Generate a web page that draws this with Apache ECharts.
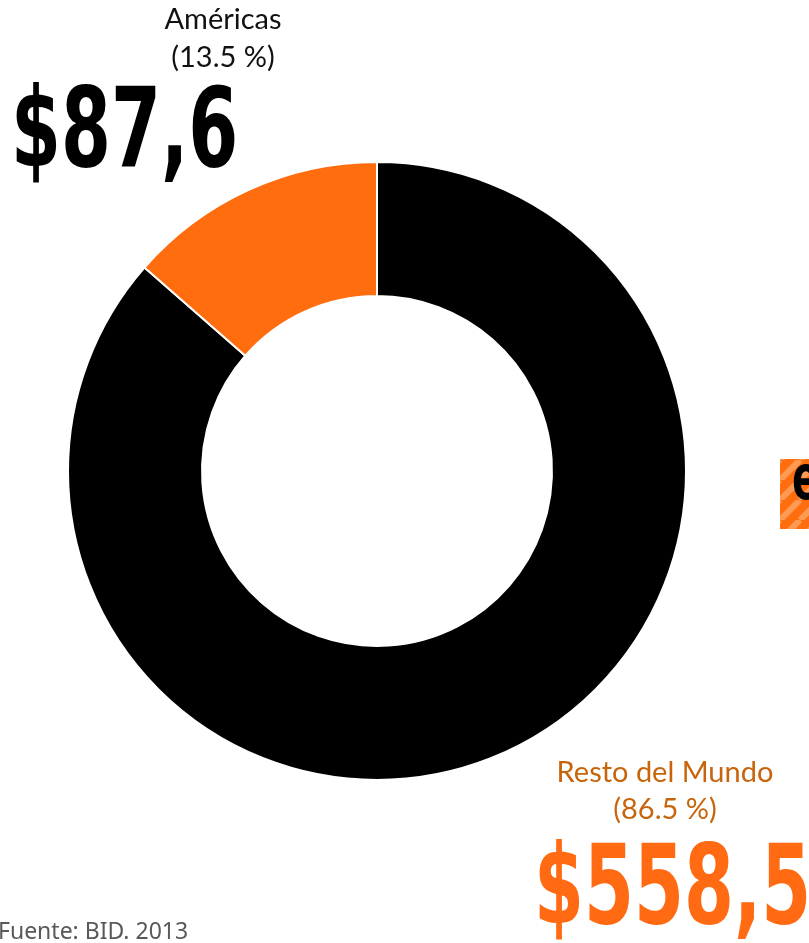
<!DOCTYPE html>
<html>
<head>
<meta charset="utf-8">
<script src="https://cdn.jsdelivr.net/npm/echarts@6/dist/echarts.min.js"></script>
<style>
  html, body { margin: 0; padding: 0; background: #fff; }
  #chart { width: 809px; height: 943px; }
</style>
</head>
<body>
<div id="chart"></div>
<script>
// Regions and their amounts (donut slices)
const regions = ['Resto del Mundo', 'Américas'];
const amounts = [558.5, 87.6];
const shares = ['86.5 %', '13.5 %'];
const amountLabels = ['$558,5', '$87,6'];
const sliceColors = ['#000000', '#ff6d0e'];
const source = 'Fuente: BID. 2013';

const bigFont = '"DejaVu Sans Condensed", "Liberation Sans Narrow", sans-serif';
const labelFont = 'Lato, "Open Sans", sans-serif';
const narrow = 0.726;

// Diagonal stripe tile for the small badge on the right edge
function stripeTile() {
  const c = document.createElement('canvas');
  c.width = 20; c.height = 20;
  const g = c.getContext('2d');
  g.fillStyle = '#ff6d0e';
  g.fillRect(0, 0, 20, 20);
  g.strokeStyle = '#ff9a55';
  g.lineWidth = 6;
  for (let k = -20; k <= 40; k += 20) {
    g.beginPath();
    g.moveTo(k, 20);
    g.lineTo(k + 20, 0);
    g.stroke();
  }
  return c;
}

function label(x, y, text, color) {
  return {
    type: 'text', z: 10,
    style: {
      x: x, y: y, text: text, align: 'center', verticalAlign: 'middle',
      font: '29px ' + labelFont, fill: color
    }
  };
}

function bigNumber(x, y, text, color) {
  return {
    type: 'text', z: 10, x: x, y: y, scaleX: narrow,
    style: {
      x: 0, y: 0, text: text, align: 'left', verticalAlign: 'top',
      font: 'bold 110px ' + bigFont, fill: color
    }
  };
}

const chart = echarts.init(document.getElementById('chart'), null, { renderer: 'canvas' });

chart.setOption({
  backgroundColor: '#ffffff',
  animation: false,
  series: [{
    type: 'pie',
    center: [377, 471],
    radius: [175, 309],
    startAngle: 90,
    clockwise: true,
    silent: true,
    label: { show: false },
    labelLine: { show: false },
    itemStyle: { borderColor: '#ffffff', borderWidth: 2 },
    data: regions.map((name, i) => ({
      name: name,
      value: amounts[i],
      itemStyle: { color: sliceColors[i] }
    }))
  }],
  graphic: [
    // Américas
    label(223, 20, regions[1], '#111111'),
    label(223, 58, '(' + shares[1] + ')', '#111111'),
    bigNumber(11, 82, amountLabels[1], '#000000'),
    // Resto del Mundo
    label(665, 773, regions[0], '#c8650c'),
    label(665, 810, '(' + shares[0] + ')', '#c8650c'),
    bigNumber(534, 839, amountLabels[0], '#ff6a13'),
    // Striped badge at right edge
    {
      type: 'rect', z: 10,
      shape: { x: 780, y: 459, width: 40, height: 70 },
      style: { fill: { image: stripeTile(), repeat: 'repeat' } }
    },
    {
      type: 'text', z: 11, x: 792, y: 452, scaleX: narrow,
      style: {
        x: 0, y: 0, text: 'e', align: 'left', verticalAlign: 'top',
        font: 'bold 62px ' + bigFont, fill: '#000000'
      }
    },
    // Source
    {
      type: 'text', z: 10,
      style: {
        x: -2, y: 932, text: source, align: 'left', verticalAlign: 'middle',
        font: '23px "Noto Sans", "Open Sans", sans-serif', fill: '#595959'
      }
    }
  ]
});
</script>
</body>
</html>
